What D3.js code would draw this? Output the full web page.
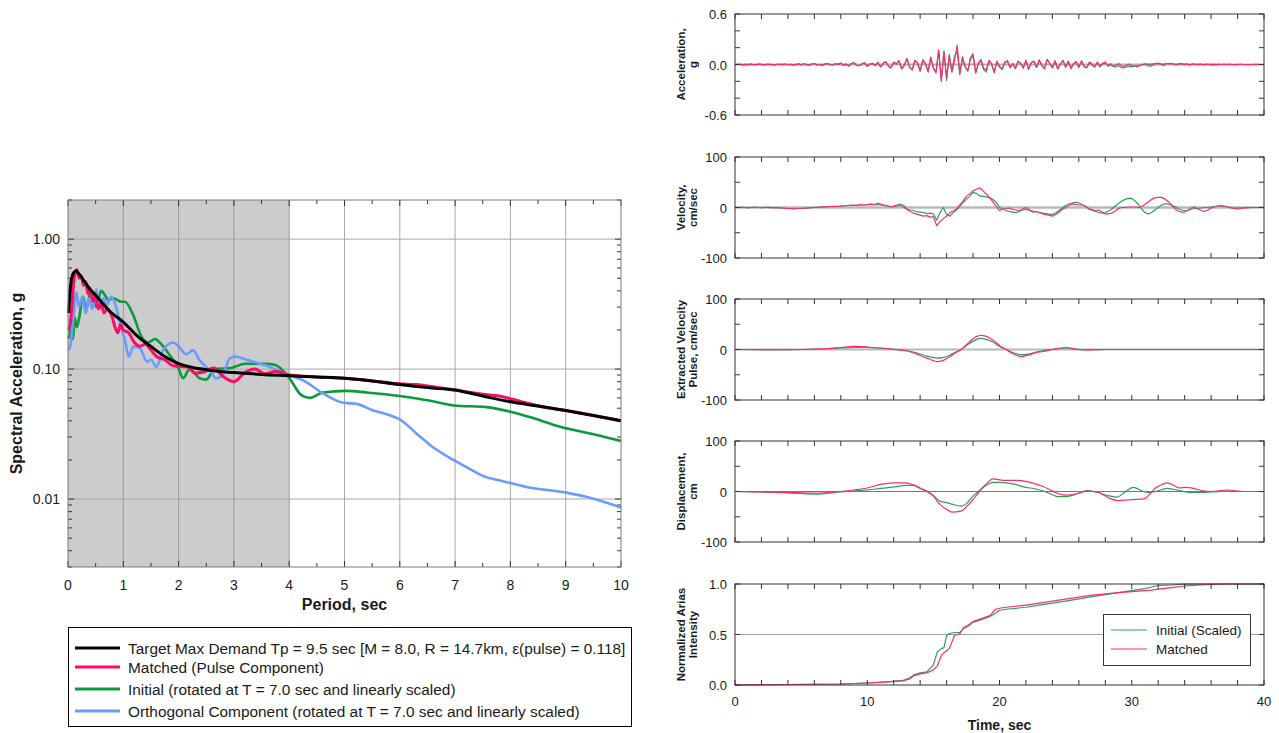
<!DOCTYPE html>
<html><head><meta charset="utf-8">
<script src="https://cdn.jsdelivr.net/npm/d3@7"></script>
<style>
body{margin:0;background:#fff;}
svg{display:block;font-family:"Liberation Sans",Arial,sans-serif;}
</style></head><body>
<svg id="chart" width="1279" height="733"></svg>
<script>
// ---------- Response spectra (period in sec, spectral acceleration in g) ----------
const targetPeriod = [0.01,0.05,0.1,0.15,0.2,0.3,0.4,0.5,0.6,0.75,1.0,1.25,1.5,1.75,2.0,2.25,2.5,2.75,3.0,3.5,4.0,4.5,5.0,5.5,6.0,6.5,7.0,7.5,8.0,8.5,9.0,9.5,10];
const targetSa = [0.27,0.45,0.55,0.57,0.54,0.47,0.41,0.37,0.33,0.28,0.23,0.18,0.149,0.125,0.11,0.103,0.099,0.096,0.094,0.091,0.089,0.087,0.085,0.081,0.076,0.072,0.069,0.062,0.056,0.052,0.048,0.044,0.040];

const matchedPeriod = [0.01,0.04,0.07,0.1,0.13,0.16,0.2,0.24,0.28,0.32,0.36,0.4,0.45,0.5,0.55,0.6,0.65,0.7,0.8,0.85,0.9,0.95,1.0,1.1,1.2,1.3,1.4,1.5,1.6,1.75,1.9,2.0,2.15,2.3,2.45,2.64,2.8,3.0,3.2,3.38,3.56,3.75,3.9,4.0,4.5,5.0,5.5,6.0,6.3,6.6,7.0,7.5,7.8,8.2,8.6,9.0,9.5,10];
const matchedSa = [0.2,0.22,0.3,0.45,0.55,0.58,0.5,0.52,0.44,0.47,0.38,0.42,0.33,0.36,0.29,0.32,0.27,0.29,0.25,0.21,0.19,0.22,0.2,0.19,0.16,0.15,0.155,0.14,0.125,0.118,0.106,0.105,0.104,0.093,0.095,0.102,0.088,0.08,0.094,0.1,0.092,0.096,0.093,0.09,0.087,0.085,0.081,0.077,0.076,0.073,0.069,0.064,0.062,0.056,0.051,0.048,0.044,0.040];

const initialPeriod = [0.01,0.06,0.09,0.12,0.16,0.21,0.27,0.33,0.42,0.51,0.6,0.67,0.73,0.82,0.97,1.03,1.18,1.33,1.45,1.57,1.69,1.84,1.99,2.08,2.2,2.38,2.5,2.65,2.95,3.2,3.56,3.74,3.98,4.22,4.37,4.61,5.03,5.4,6.0,6.55,6.98,7.57,8.0,8.41,8.9,9.44,10];
const initialSa = [0.172,0.2,0.17,0.25,0.21,0.26,0.36,0.29,0.405,0.30,0.40,0.37,0.34,0.35,0.33,0.33,0.26,0.177,0.16,0.17,0.155,0.128,0.104,0.085,0.1,0.085,0.083,0.1,0.102,0.11,0.11,0.108,0.088,0.063,0.060,0.066,0.068,0.066,0.062,0.057,0.0525,0.051,0.047,0.042,0.036,0.032,0.028];

const orthoPeriod = [0.01,0.04,0.1,0.15,0.2,0.26,0.32,0.38,0.44,0.51,0.57,0.64,0.7,0.78,0.88,0.94,1.03,1.1,1.18,1.3,1.43,1.5,1.6,1.72,1.9,2.0,2.14,2.26,2.38,2.56,2.68,2.8,2.92,3.02,3.23,3.47,3.65,3.83,4.0,4.25,4.61,4.98,5.22,5.52,5.76,6.0,6.3,6.6,6.97,7.27,7.57,7.81,8.29,9.01,9.37,10];
const orthoSa = [0.14,0.15,0.25,0.39,0.30,0.36,0.27,0.35,0.29,0.41,0.30,0.35,0.31,0.36,0.29,0.225,0.167,0.125,0.149,0.145,0.114,0.118,0.104,0.14,0.16,0.15,0.13,0.14,0.117,0.098,0.085,0.09,0.12,0.125,0.118,0.11,0.104,0.096,0.09,0.082,0.065,0.055,0.054,0.048,0.045,0.041,0.032,0.025,0.020,0.017,0.0147,0.0139,0.0124,0.0112,0.0104,0.0086];

const periodTicks = [0,1,2,3,4,5,6,7,8,9,10];
const saTicks = [0.01,0.1,1];
const saTickLabels = ["0.01","0.10","1.00"];
const legendLabels = [
  "Target Max Demand Tp = 9.5 sec [M = 8.0, R = 14.7km, \u03b5(pulse) = 0.118]",
  "Matched (Pulse Component)",
  "Initial (rotated at T = 7.0 sec and linearly scaled)",
  "Orthogonal Component (rotated at T = 7.0 sec and linearly scaled)"
];

// ---------- Time histories ----------
// acceleration (g), sampled every 0.2 s from 0 to 40 s
const accDt = 0.2;
const accMatched = [
 0,0.003,0.001,-0.004,0.002,-0.001,0.004,-0.003,-0.001,0.005,0.002,-0.004,0.001,0.003,-0.002,-0.005,0.003,0.001,-0.002,0.006,-0.003,0.002,-0.004,-0.001,0.007,
 -0.004,0.009,-0.002,-0.008,0.005,0.011,-0.006,0.003,-0.01,0.004,0.012,-0.003,-0.007,0.009,0.002,
 0.016,-0.008,0.004,-0.018,0.012,0.021,-0.01,-0.015,0.007,0.019,-0.022,0.005,0.014,-0.012,0.026,
 -0.03,0.012,0.035,-0.018,-0.042,0.028,0.008,0.046,-0.052,-0.01,
 0.072,-0.03,-0.065,0.045,0.02,-0.08,0.055,0.01,-0.09,0.088,-0.04,-0.1,
 0.17,-0.2,0.15,-0.15,0.1,-0.09,0.05,0.23,-0.11,
 0.09,-0.02,-0.075,0.08,0.13,-0.1,0.02,0.06,-0.045,-0.065,
 0.05,0.01,-0.1,0.04,-0.02,-0.055,0.03,0.045,-0.035,0.01,-0.05,0.04,0.015,-0.045,0.05,
 -0.06,0.02,0.04,-0.035,0.055,-0.01,-0.05,0.06,0.015,-0.04,0.045,-0.055,0.005,0.05,-0.03,
 0.04,-0.045,0.01,0.035,-0.03,0.045,-0.02,-0.035,0.03,0.005,-0.025,0.03,-0.02,0.015,0.03,
 -0.015,0.01,-0.02,-0.008,0.012,-0.015,-0.022,-0.01,0.005,-0.012,-0.018,-0.025,-0.015,-0.005,0.006,
 -0.015,-0.02,-0.008,0.01,0.016,0.004,-0.01,0.012,0.006,0.014,0.004,-0.005,0.01,0.007,0.002,
 0.006,-0.004,0.005,0.003,-0.002,0.004,-0.003,0.002,0.003,-0.002,0.002,-0.001,0.001,0,0.001,
 0,0.001,0,-0.001,0,0.001,0,0,-0.001,0,0,0.001,0,0,0
];
const accInitial = [
 0,0.003,0.001,-0.004,0.002,-0.001,0.004,-0.003,-0.001,0.005,0.002,-0.004,0.001,0.003,-0.002,-0.005,0.003,0.001,-0.002,0.006,-0.003,0.002,-0.004,-0.001,0.007,
 -0.004,0.009,-0.002,-0.008,0.005,0.011,-0.006,0.003,-0.01,0.004,0.012,-0.003,-0.007,0.009,0.002,
 0.016,-0.008,0.004,-0.018,0.012,0.021,-0.01,-0.015,0.007,0.019,-0.022,0.005,0.014,-0.012,0.026,
 -0.028,0.014,0.033,-0.02,-0.04,0.03,0.006,0.044,-0.05,-0.008,
 0.068,-0.032,-0.06,0.047,0.018,-0.078,0.052,0.012,-0.085,0.082,-0.045,-0.09,
 0.17,-0.18,0.16,-0.19,0.12,-0.08,0.1,0.15,-0.12,
 0.07,-0.03,-0.08,0.06,0.1,-0.1,0.01,0.04,-0.06,-0.09,
 0.04,0.005,-0.09,0.03,-0.03,-0.06,0.02,0.04,-0.04,0.012,-0.045,0.035,0.01,-0.04,0.045,
 -0.055,0.022,0.038,-0.035,0.05,-0.012,-0.05,0.055,0.012,-0.04,0.042,-0.05,0.004,0.045,-0.03,
 0.035,-0.05,0.005,0.03,-0.035,0.04,-0.028,-0.04,0.02,-0.005,-0.032,0.022,-0.03,0.008,0.02,
 -0.02,-0.005,-0.025,-0.03,-0.015,-0.035,-0.042,-0.03,-0.02,-0.028,-0.02,-0.015,-0.01,0,0.008,
 0.005,0.002,0.008,0.012,0.01,0.006,0.002,0.01,0.012,0.01,0.004,0.002,0.008,0.006,0.003,
 0.006,-0.004,0.005,0.003,-0.002,0.004,-0.003,0.002,0.003,-0.002,0.002,-0.001,0.001,0,0.001,
 0,0.001,0,-0.001,0,0.001,0,0,-0.001,0,0,0.001,0,0,0
];

// velocity (cm/sec), sampled every 0.25 s
const velDt = 0.25;
const velMatched = [
 0,0,0.3,0,-0.3,0,0.2,0,-0.2,0,0.3,-0.2,0,
 -0.5,-1,-1.5,-2,-2,-2.5,-2,-1.5,-1.5,-1,-0.5,0,
 0.5,1,1,1.5,2,2.5,2,3,
 3.5,4,5,4,5,6,5,6,
 7,6,8,7,5,4,1,2,
 3,4,1,-4,-8,-11,-13,-15,
 -17,-16,-19,-18,-36,-28,-22,-17,
 -10,-7,-3,5,13,22,27,33,
 36,39,33,27,20,11,2,-6,
 -3,-2,-1,-4,-5,-6,-3,0,
 -4,-9,-8,-10,-12,-14,-15,-17,
 -14,-9,-4,0,4,7,6,5,
 5,3,-2,-4,-6,-5,-9,-13,
 -12,-11,-7,-2,0,0,1,1,
 1,0,2,6,11,16,19,20,
 20,17,12,5,-2,-7,-9,-9,
 -6,-1,1,-3,-6,-8,-5,-1,
 1,3,4,3,1,-1,-2,-3,
 -2,-1,-1,0,0,0,0,0
];
const velInitial = [
 0,0,0.2,0,-0.2,0,0.2,0,-0.2,0,0.2,-0.1,0,
 -0.5,-1,-1.5,-2,-2.5,-2.5,-2,-2,-1.5,-1,-0.5,0,
 0.5,1,1.5,1.5,2,2,2.5,3,
 3,4,4,5,4,5,5,5,
 6,5,6,5,4,3,2,3,
 5,7,4,-3,-5,-6,-8,-9,
 -10,-12,-11,-13,-25,-10,0,-14,
 -17,-10,-5,2,10,16,22,30,
 28,23,22,21,19,16,10,0,
 -4,-6,-8,-9,-10,-8,-5,-4,
 -6,-7,-8,-10,-11,-12,-13,-14,
 -11,-6,-1,4,7,9,10,9,
 6,2,-3,-6,-8,-10,-11,-10,
 -7,-3,3,8,13,16,18,18,
 13,6,-3,-10,-13,-10,-5,0,
 5,7,7,5,2,-2,-5,-6,
 -5,-3,-2,-2,-1,0,0,1,
 2,3,3,2,1,0,-1,-1,
 -1,0,0,0,0,0,0,0
];

// extracted velocity pulse (cm/sec)
const pulseTime = [0,3,5,7,8,9,10,11,12,13,13.5,14,14.5,15,15.3,15.7,16.2,16.6,17.1,17.6,18.2,18.6,19.0,19.5,20,20.5,21,21.6,22.2,22.8,23.3,24,24.6,25.1,25.7,26.5,28,32,36,40];
const pulseMatched = [0,-0.5,0,2,4,6,5,3,0.5,-3,-7,-12,-17,-22,-24,-22,-15,-8,0,12,25,28,26,19,8,0,-8,-14,-11,-6,-4,0,3,4,1,-1,0,0,0,0];
const pulseInitial = [0,-0.5,0,1.5,3,4,4,2.5,0.5,-2,-5,-9,-13,-16,-17,-16,-12,-6,0,10,19,22,20,15,6,0,-6,-10,-9,-5,-2,0,2,3,1,-0.5,0,0,0,0];

// displacement (cm)
const dispTime = [0,2,4,6,8,9,10,11,12,12.9,13.5,14,14.5,15,15.5,16,16.4,17.1,17.5,17.9,18.3,18.6,19,19.5,20,20.5,21.2,22,22.6,23.2,23.8,24.4,25,25.9,26.6,27.4,28.2,28.9,29.5,30.1,31,31.4,31.8,32.3,32.7,33.2,33.6,34.1,34.5,35.3,36,37.2,38.4,40];
const dispMatched = [0,-1,-2,-3,0,3,7,14,17,17,13,7,0,-9,-26,-35,-41,-39,-30,-19,-6,4,15,25,23,22,22,20,16,11,4,-4,-7,-4,1,-1,-12,-18,-17,-16,-14,-4,7,14,17,12,7,8,7,2,0,3,0,0];
const dispInitial = [0,-1,-3,-5,-1,1,3,6,9,12,12,6,1,-8,-19,-22,-25,-29,-24,-12,-2,5,12,18,18,17,14,8,6,2,-4,-10,-10,-4,2,-2,-8,-11,-1,8,-1,-2,0,4,6,4,2,-1,-2,-2,-1,1,0,0];

// normalized Arias intensity
const ariasTime = [0,4,8,10,11.5,12.7,13.2,13.5,14,14.5,15,15.3,15.6,15.8,16.0,16.2,16.6,17.0,17.3,17.6,18,18.7,19.3,19.7,20.0,20.5,22,23,25,27,29,30,31,31.5,32,33,34,35.5,37,40];
const ariasMatched = [0,0.005,0.01,0.02,0.03,0.04,0.06,0.09,0.11,0.12,0.15,0.19,0.29,0.32,0.34,0.36,0.49,0.51,0.57,0.59,0.63,0.66,0.69,0.75,0.76,0.77,0.79,0.81,0.85,0.89,0.915,0.925,0.935,0.94,0.95,0.965,0.98,0.993,1.0,1.0];
const ariasInitial = [0,0.005,0.01,0.02,0.03,0.045,0.07,0.1,0.12,0.13,0.2,0.33,0.36,0.37,0.49,0.51,0.52,0.52,0.56,0.58,0.62,0.65,0.68,0.71,0.74,0.75,0.77,0.79,0.83,0.875,0.915,0.935,0.955,0.97,0.985,0.99,0.998,1.0,1.0,1.0];

const timeTickLabels = [0,10,20,30,40];
const ariasLegend = ["Initial (Scaled)","Matched"];

// ---------- colours ----------
const C = {target:"#000000", matched:"#ff0a64", initial:"#0b9a3c", ortho:"#6b9bff",
           thInitial:"#2aa354", thMatched:"#ff2a72"};

const svg = d3.select("#chart");
const TXT = "#1a1a1a";

// ================= Spectrum chart =================
const L = {left:68, right:621, top:200, bottom:567};
const x = d3.scaleLinear().domain([0,10]).range([L.left, L.right]);
const y = d3.scaleLog().domain([0.003, 2]).range([L.bottom, L.top]);
const sp = svg.append("g");

sp.append("rect").attr("x", L.left).attr("y", L.top)
  .attr("width", L.right - L.left).attr("height", L.bottom - L.top).attr("fill", "#fff");
sp.append("rect").attr("x", x(0)).attr("y", L.top)
  .attr("width", x(4) - x(0)).attr("height", L.bottom - L.top).attr("fill", "#cccccc");

// grid
sp.selectAll(".vg").data(periodTicks.slice(1, -1)).join("line")
  .attr("x1", d => x(d)).attr("x2", d => x(d)).attr("y1", L.top).attr("y2", L.bottom)
  .attr("stroke", d => d <= 4 ? "#9a9a9a" : "#a8a8a8").attr("stroke-width", 1);
sp.selectAll(".hg").data(saTicks).join("line")
  .attr("x1", L.left).attr("x2", L.right).attr("y1", d => y(d)).attr("y2", d => y(d))
  .attr("stroke", "#a8a8a8").attr("stroke-width", 1);

// minor/major ticks on the log axis (left and right, pointing in)
const yMinor = [];
[0.001, 0.01, 0.1, 1].forEach(dec => { for (let k = 1; k <= 9; k++) { const v = k * dec; if (v >= 0.003 && v <= 2) yMinor.push(v); } });
[[L.left, 1], [L.right, -1]].forEach(([x0, dir]) => {
  sp.selectAll(null).data(yMinor).join("line")
    .attr("x1", x0).attr("x2", d => x0 + dir * (saTicks.includes(d) ? 6 : 4))
    .attr("y1", d => y(d)).attr("y2", d => y(d))
    .attr("stroke", "#333").attr("stroke-width", 1);
});
// half-second ticks on top and bottom
const xMinor = d3.range(0, 10.01, 0.5);
[[L.top, 1], [L.bottom, -1]].forEach(([y0, dir]) => {
  sp.selectAll(null).data(xMinor).join("line")
    .attr("x1", d => x(d)).attr("x2", d => x(d))
    .attr("y1", y0).attr("y2", d => y0 + dir * (Number.isInteger(d) ? 6 : 4))
    .attr("stroke", "#333").attr("stroke-width", 1);
});

// spectra
const spLine = d3.line().x(d => x(d[0])).y(d => y(d[1])).curve(d3.curveMonotoneX);
const zip = (a, b) => a.map((v, i) => [v, b[i]]);
sp.append("path").datum(zip(initialPeriod, initialSa)).attr("d", spLine)
  .attr("fill", "none").attr("stroke", C.initial).attr("stroke-width", 2.6).attr("stroke-linejoin", "round");
sp.append("path").datum(zip(orthoPeriod, orthoSa)).attr("d", spLine)
  .attr("fill", "none").attr("stroke", C.ortho).attr("stroke-width", 2.6).attr("stroke-linejoin", "round");
sp.append("path").datum(zip(matchedPeriod, matchedSa)).attr("d", spLine)
  .attr("fill", "none").attr("stroke", C.matched).attr("stroke-width", 3).attr("stroke-linejoin", "round");
sp.append("path").datum(zip(targetPeriod, targetSa)).attr("d", spLine)
  .attr("fill", "none").attr("stroke", C.target).attr("stroke-width", 3).attr("stroke-linejoin", "round");

// frame
sp.append("rect").attr("x", L.left).attr("y", L.top)
  .attr("width", L.right - L.left).attr("height", L.bottom - L.top)
  .attr("fill", "none").attr("stroke", "#7a7a7a").attr("stroke-width", 1);

// labels
sp.selectAll(".xl").data(periodTicks).join("text")
  .attr("x", d => x(d)).attr("y", 590).attr("text-anchor", "middle")
  .attr("font-size", 14).attr("fill", TXT).text(d => d);
sp.selectAll(".yl").data(saTicks).join("text")
  .attr("x", 60).attr("y", d => y(d) + 5).attr("text-anchor", "end")
  .attr("font-size", 14).attr("fill", TXT).text((d, i) => saTickLabels[i]);
sp.append("text").attr("x", (L.left + L.right) / 2).attr("y", 610).attr("text-anchor", "middle")
  .attr("font-size", 16).attr("font-weight", "bold").attr("fill", TXT).text("Period, sec");
sp.append("text").attr("transform", `translate(22,${(L.top + L.bottom) / 2}) rotate(-90)`)
  .attr("text-anchor", "middle").attr("font-size", 16).attr("font-weight", "bold").attr("fill", TXT)
  .text("Spectral Acceleration, g");

// legend
const lg = svg.append("g");
lg.append("rect").attr("x", 68.5).attr("y", 627.5).attr("width", 563).attr("height", 99)
  .attr("fill", "#fff").attr("stroke", "#000").attr("stroke-width", 1);
const legendColors = [C.target, C.matched, C.initial, C.ortho];
const legendY = [648, 667, 689, 711];
legendLabels.forEach((t, i) => {
  lg.append("line").attr("x1", 75).attr("x2", 120).attr("y1", legendY[i]).attr("y2", legendY[i])
    .attr("stroke", legendColors[i]).attr("stroke-width", 3);
  lg.append("text").attr("x", 128).attr("y", legendY[i] + 5.5).attr("font-size", 15.4).attr("fill", TXT).text(t);
});

// ================= Time-history panels =================
const R = {left:735, right:1264, h:101};
const tx = d3.scaleLinear().domain([0, 40]).range([R.left, R.right]);
const sampled = (arr, dt) => arr.map((v, i) => [i * dt, v]);
const fmt1 = v => v.toFixed(1);
const fmt0 = v => String(v);

const panels = [
  {top:14, dom:[-0.6, 0.6], step:0.2, labels:[-0.6, 0, 0.6], fmt:fmt1, title:["Acceleration,", "g"],
   ref:0, refStyle:["#b0b0b0", 2], curve:d3.curveLinear,
   series:[sampled(accInitial, accDt), sampled(accMatched, accDt)]},
  {top:157, dom:[-100, 100], step:50, labels:[-100, 0, 100], fmt:fmt0, title:["Velocity,", "cm/sec"],
   ref:0, refStyle:["#b8b8b8", 2.5], curve:d3.curveLinear,
   series:[sampled(velInitial, velDt), sampled(velMatched, velDt)]},
  {top:299, dom:[-100, 100], step:50, labels:[-100, 0, 100], fmt:fmt0, title:["Extracted Velocity", "Pulse, cm/sec"],
   ref:0, refStyle:["#b8b8b8", 2], curve:d3.curveMonotoneX,
   series:[zip(pulseTime, pulseInitial), zip(pulseTime, pulseMatched)]},
  {top:441, dom:[-100, 100], step:50, labels:[-100, 0, 100], fmt:fmt0, title:["Displacement,", "cm"],
   ref:0, refStyle:["#777", 1], curve:d3.curveMonotoneX,
   series:[zip(dispTime, dispInitial), zip(dispTime, dispMatched)]},
  {top:584, dom:[0, 1], step:0.5, labels:[0, 0.5, 1], fmt:fmt1, title:["Normalized Arias", "Intensity"],
   ref:0.5, refStyle:["#a0a0a0", 1], curve:d3.curveLinear,
   series:[zip(ariasTime, ariasInitial), zip(ariasTime, ariasMatched)]}
];

panels.forEach((p, pi) => {
  const g = svg.append("g");
  const top = p.top, bot = p.top + R.h;
  const py = d3.scaleLinear().domain(p.dom).range([bot, top]);

  g.append("line").attr("x1", R.left).attr("x2", R.right).attr("y1", py(p.ref)).attr("y2", py(p.ref))
    .attr("stroke", p.refStyle[0]).attr("stroke-width", p.refStyle[1]);

  const ln = d3.line().x(d => tx(d[0])).y(d => py(d[1])).curve(p.curve);
  const cols = [C.thInitial, C.thMatched];
  p.series.forEach((s, si) => {
    g.append("path").datum(s).attr("d", ln).attr("fill", "none")
      .attr("stroke", cols[si]).attr("stroke-width", 1.2).attr("stroke-linejoin", "round");
  });

  // ticks
  const xt = d3.range(0, 40.01, 2);
  [[top, 1], [bot, -1]].forEach(([y0, dir]) => {
    g.selectAll(null).data(xt).join("line")
      .attr("x1", d => tx(d)).attr("x2", d => tx(d)).attr("y1", y0).attr("y2", y0 + dir * 5)
      .attr("stroke", "#333").attr("stroke-width", 1);
  });
  const yt = d3.range(p.dom[0], p.dom[1] + p.step / 2, p.step);
  [[R.left, 1], [R.right, -1]].forEach(([x0, dir]) => {
    g.selectAll(null).data(yt).join("line")
      .attr("x1", x0).attr("x2", x0 + dir * 5).attr("y1", d => py(d)).attr("y2", d => py(d))
      .attr("stroke", "#333").attr("stroke-width", 1);
  });

  g.append("rect").attr("x", R.left).attr("y", top).attr("width", R.right - R.left).attr("height", R.h)
    .attr("fill", "none").attr("stroke", "#333").attr("stroke-width", 1);

  g.selectAll(null).data(p.labels).join("text")
    .attr("x", 727).attr("y", d => py(d) + 5).attr("text-anchor", "end")
    .attr("font-size", 13).attr("fill", TXT).text(d => p.fmt(d));

  const cy = (top + bot) / 2;
  p.title.forEach((t, ti) => {
    g.append("text").attr("transform", `translate(${681 + ti * 11.5},${cy}) rotate(-90)`)
      .attr("text-anchor", "middle").attr("dominant-baseline", "central")
      .attr("font-size", 11.5).attr("font-weight", "bold").attr("fill", TXT).text(t);
  });

  if (pi === panels.length - 1) {
    g.selectAll(null).data(timeTickLabels).join("text")
      .attr("x", d => tx(d)).attr("y", 706).attr("text-anchor", "middle")
      .attr("font-size", 13).attr("fill", TXT).text(d => d);
    g.append("text").attr("x", (R.left + R.right) / 2).attr("y", 730).attr("text-anchor", "middle")
      .attr("font-size", 14).attr("font-weight", "bold").attr("fill", TXT).text("Time, sec");

    // legend box
    g.append("rect").attr("x", 1103.5).attr("y", 614.5).attr("width", 147).attr("height", 51)
      .attr("fill", "#fff").attr("stroke", "#333").attr("stroke-width", 1);
    const ly = [630, 649];
    ariasLegend.forEach((t, i) => {
      g.append("line").attr("x1", 1111).attr("x2", 1147).attr("y1", ly[i]).attr("y2", ly[i])
        .attr("stroke", cols[i]).attr("stroke-width", 1.2);
      g.append("text").attr("x", 1156).attr("y", ly[i] + 5).attr("font-size", 13.5).attr("fill", TXT).text(t);
    });
  }
});
</script>
</body></html>
